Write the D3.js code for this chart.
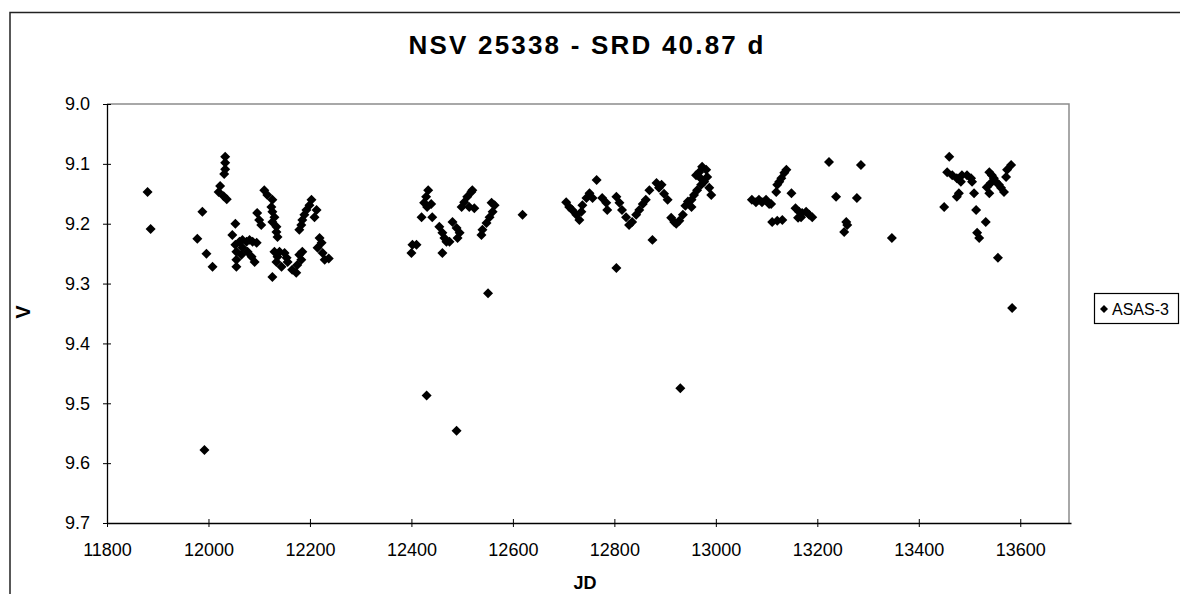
<!DOCTYPE html>
<html><head><meta charset="utf-8">
<script src="https://cdn.jsdelivr.net/npm/d3@7"></script>
<style>
html,body{margin:0;padding:0;background:#fff;}
svg{display:block;font-family:"Liberation Sans",Arial,sans-serif;}
</style></head>
<body>
<svg id="chart" width="1180" height="594"></svg>
<script>
const titleText = "NSV 25338 - SRD 40.87 d";
const xLabel = "JD";
const yLabel = "V";
const seriesName = "ASAS-3";
const xTicks = [11800, 12000, 12200, 12400, 12600, 12800, 13000, 13200, 13400, 13600];
const yTicks = [9.0, 9.1, 9.2, 9.3, 9.4, 9.5, 9.6, 9.7];

const jd = [
11880,11886,11988,11978,11996,12008,11992,12033,12033,12033,12031,12023,12020,12030,12036,
12053,12047,12053,12055,12061,12067,12075,12081,12087,12095,12067,12077,12085,12091,12055,12055,12065,
12110,12116,12126,12124,12126,12130,12126,12134,12134,12136,12096,12100,12104,
12130,12136,12134,12140,12150,12154,12156,12144,12126,12165,12173,12179,12183,12185,12175,
12203,12199,12193,12189,12185,12183,12179,12209,12213,12219,12223,12215,12225,12229,12237,
12402,12410,12400,12433,12429,12425,12439,12431,12420,12441,12455,12461,12465,12469,12461,
12481,12489,12495,12491,12475,12499,12504,12510,12518,12520,12514,12524,
12538,12540,12548,12554,12560,12564,12558,12619,12430,12489,12551,
12705,12711,12717,12725,12731,12735,12737,12745,12751,12757,12765,12776,12784,12786,
12804,12810,12815,12823,12829,12835,12843,12849,12804,12930,
12856,12862,12869,12883,12875,12888,12893,12898,12905,12912,12918,12922,12928,12935,12940,12945,
12952,12952,12957,12961,12963,12967,12971,12973,12977,12981,12983,12987,12991,12970,
13071,13079,13085,13091,13099,13105,13109,13119,13121,13125,13129,13135,13139,13149,
13157,13164,13170,13178,13184,13162,13168,13190,13111,13121,13131,
13223,13286,13237,13278,13257,13259,13253,13347,
13460,13456,13466,13475,13483,13485,13495,13503,13505,13479,13475,13509,
13539,13544,13548,13542,13534,13539,13552,13558,13562,13568,13572,13574,13582,
13450,13513,13532,13515,13519,13556,13584
];
const mag = [
9.147,9.209,9.180,9.225,9.250,9.272,9.578,9.088,9.098,9.109,9.117,9.137,9.147,9.154,9.159,
9.200,9.219,9.235,9.247,9.230,9.227,9.230,9.227,9.230,9.232,9.240,9.247,9.255,9.264,9.260,9.272,9.252,
9.144,9.152,9.160,9.172,9.180,9.189,9.197,9.205,9.214,9.222,9.182,9.194,9.202,
9.247,9.255,9.264,9.247,9.249,9.257,9.264,9.272,9.289,9.277,9.282,9.252,9.260,9.247,9.269,
9.160,9.169,9.177,9.185,9.194,9.202,9.210,9.189,9.177,9.224,9.232,9.240,9.249,9.260,9.258,
9.235,9.235,9.249,9.144,9.155,9.165,9.167,9.172,9.189,9.189,9.205,9.215,9.224,9.230,9.249,
9.197,9.207,9.215,9.224,9.230,9.172,9.164,9.155,9.147,9.144,9.172,9.174,
9.219,9.210,9.199,9.189,9.180,9.169,9.165,9.185,9.487,9.546,9.316,
9.164,9.172,9.177,9.185,9.194,9.180,9.169,9.157,9.149,9.157,9.127,9.157,9.165,9.177,
9.155,9.165,9.177,9.189,9.202,9.197,9.185,9.177,9.274,9.475,
9.167,9.160,9.144,9.132,9.227,9.140,9.135,9.150,9.160,9.190,9.197,9.200,9.195,9.185,9.170,9.163,
9.160,9.172,9.152,9.119,9.144,9.114,9.135,9.105,9.130,9.110,9.122,9.140,9.152,9.124,
9.160,9.164,9.160,9.164,9.160,9.167,9.167,9.147,9.135,9.130,9.124,9.115,9.110,9.149,
9.174,9.180,9.182,9.180,9.185,9.190,9.189,9.189,9.197,9.195,9.194,
9.097,9.102,9.155,9.157,9.197,9.202,9.214,9.224,
9.088,9.114,9.119,9.124,9.130,9.119,9.119,9.124,9.130,9.149,9.155,9.149,
9.114,9.119,9.124,9.132,9.139,9.149,9.130,9.135,9.140,9.147,9.122,9.110,9.102,
9.172,9.177,9.197,9.215,9.224,9.257,9.341
];

const svg = d3.select("#chart");
const P = {left:107, right:1071, top:104, bottom:523};

const x = d3.scaleLinear().domain([11800, 13700]).range([P.left, P.right]);
const y = d3.scaleLinear().domain([9.0, 9.7]).range([P.top, P.bottom]);

// outer chart area frame (partially visible)
svg.append("path").attr("d", `M10,600 L10,12.5 L1185,12.5`)
  .attr("fill","none").attr("stroke","#222").attr("stroke-width",1.5);

// plot area border (gray top/right)
svg.append("path").attr("d", `M${P.left},${P.top} L${P.right - 2},${P.top} L${P.right - 2},${P.bottom}`)
  .attr("fill","none").attr("stroke","#8c8c8c").attr("stroke-width",1.5);

// title
svg.append("text").attr("x",587).attr("y",54).attr("text-anchor","middle")
  .attr("font-size",26).attr("font-weight","bold").attr("letter-spacing",2.2)
  .attr("fill","#000").text(titleText);

// axes
const xAxis = d3.axisBottom(x).tickValues(xTicks).tickSizeInner(4).tickSizeOuter(0).tickFormat(d3.format("d"));
const gx = svg.append("g").attr("transform",`translate(0,${P.bottom})`).call(xAxis);
gx.select(".domain").attr("stroke","#000").attr("stroke-width",1.3);
gx.selectAll(".tick line").attr("y1",-4).attr("y2",4).attr("stroke","#000");
gx.selectAll(".tick text").attr("y",20).attr("font-size",18).attr("font-family","Liberation Sans, Arial, sans-serif").attr("fill","#000");

const yAxis = d3.axisLeft(y).tickValues(yTicks).tickSizeInner(4).tickSizeOuter(0).tickFormat(d3.format(".1f"));
const gy = svg.append("g").attr("transform",`translate(${P.left},0)`).call(yAxis);
gy.select(".domain").attr("stroke","#000").attr("stroke-width",1.3);
gy.selectAll(".tick line").attr("x1",-4).attr("x2",4).attr("stroke","#000");
gy.selectAll(".tick text").attr("x",-17).attr("font-size",18).attr("font-family","Liberation Sans, Arial, sans-serif").attr("fill","#000");

// axis titles
svg.append("text").attr("x",585).attr("y",589).attr("text-anchor","middle")
  .attr("font-size",18).attr("font-weight","bold").text(xLabel);
svg.append("text").attr("transform","translate(30,312) rotate(-90)").attr("text-anchor","middle")
  .attr("font-size",20).attr("font-weight","bold").text(yLabel);

// points
const pts = jd.map((d,i)=>({jd:d, v:mag[i]}));
const diamond = d3.symbol().type(d3.symbolSquare).size(50);
svg.append("g").selectAll("path").data(pts).join("path")
  .attr("d", diamond)
  .attr("transform", d=>`translate(${x(d.jd)},${y(d.v)}) rotate(45)`)
  .attr("fill","#000");

// legend
const lg = svg.append("g");
lg.append("rect").attr("x",1094.5).attr("y",293.5).attr("width",84).attr("height",30)
  .attr("fill","#fff").attr("stroke","#000").attr("stroke-width",1.2);
lg.append("path").attr("d", d3.symbol().type(d3.symbolSquare).size(32)())
  .attr("transform","translate(1104,309) rotate(45)").attr("fill","#000");
lg.append("text").attr("x",1112).attr("y",315).attr("font-size",16).attr("fill","#000").text(seriesName);
</script>
</body></html>
